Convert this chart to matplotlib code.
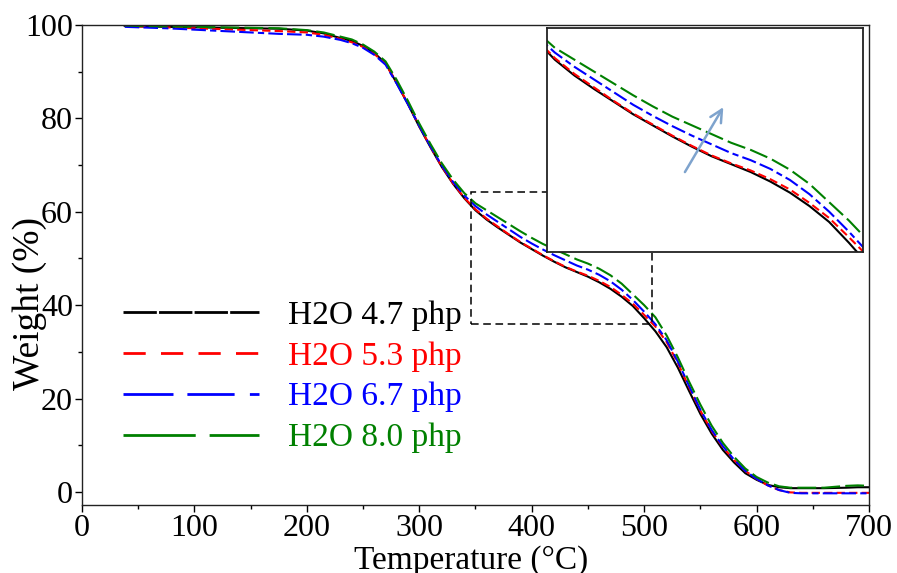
import matplotlib
matplotlib.use("Agg")
import matplotlib.pyplot as plt
from matplotlib.lines import Line2D
from matplotlib.patches import Rectangle

plt.rcParams['font.family'] = ['Liberation Serif', 'DejaVu Serif']

# ---------------- data ----------------
temperature = [38, 50, 75, 100, 125, 150, 175, 200, 215, 230, 240, 250, 260, 270,
               280, 290, 300, 310, 320, 330, 340, 350, 360, 370, 380, 390, 400,
               410, 420, 430, 440, 450, 460, 470, 480, 490, 500, 510, 520, 530,
               540, 550, 560, 570, 580, 590, 600, 610, 620, 630, 640, 660, 680,
               690, 700]

w_47 = [99.8, 99.7, 99.6, 99.5, 99.4, 99.3, 99.2, 98.8, 98.2, 97.2, 96.6, 95.5,
        94.0, 91.8, 87.5, 83.0, 78.2, 73.8, 69.6, 66.0, 62.9, 60.3, 58.3, 56.6,
        55.0, 53.4, 52.0, 50.6, 49.3, 48.1, 47.1, 46.1, 44.9, 43.5, 41.8, 39.8,
        37.2, 34.4, 31.0, 26.6, 21.6, 16.7, 12.5, 9.0, 6.3, 4.0, 2.6, 1.5, 1.0,
        0.8, 0.8, 0.8, 0.9, 1.0, 1.0]

w_53 = [99.8, 99.7, 99.5, 99.3, 99.1, 98.9, 98.7, 98.4, 97.9, 97.0, 96.3, 95.3,
        93.8, 91.7, 87.6, 83.1, 78.4, 73.9, 69.7, 66.1, 63.0, 60.5, 58.5, 56.8,
        55.1, 53.5, 52.1, 50.7, 49.4, 48.2, 47.2, 46.3, 45.2, 43.9, 42.2, 40.3,
        37.9, 35.4, 32.1, 27.6, 22.4, 17.4, 13.1, 9.6, 6.8, 4.5, 2.8, 1.4, 0.4,
        -0.1, -0.2, -0.2, -0.2, -0.2, -0.2]

w_67 = [99.6, 99.5, 99.3, 99.0, 98.7, 98.4, 98.1, 97.9, 97.5, 96.8, 96.1, 95.1,
        93.6, 91.5, 87.4, 83.0, 78.4, 74.0, 69.9, 66.4, 63.5, 61.2, 59.4, 57.8,
        56.2, 54.6, 53.2, 51.9, 50.7, 49.6, 48.5, 47.6, 46.5, 45.1, 43.3, 41.1,
        38.6, 35.9, 32.5, 27.9, 22.7, 17.6, 13.3, 9.8, 6.9, 4.5, 2.8, 1.4, 0.4,
        -0.2, -0.3, -0.3, -0.3, -0.3, -0.3]

w_80 = [99.9, 99.8, 99.7, 99.6, 99.5, 99.4, 99.3, 98.9, 98.4, 97.5, 96.9, 95.8,
        94.3, 92.2, 88.2, 83.7, 78.9, 74.5, 70.4, 66.9, 64.0, 61.8, 60.3, 58.8,
        57.3, 55.8, 54.4, 53.1, 52.0, 50.9, 49.8, 48.9, 47.8, 46.4, 44.6, 42.3,
        40.0, 37.4, 33.5, 28.8, 23.6, 18.7, 14.2, 10.5, 7.5, 5.0, 3.2, 2.0, 1.2,
        0.9, 0.9, 0.9, 1.3, 1.4, 1.3]

labels = ["H2O 4.7 php", "H2O 5.3 php", "H2O 6.7 php", "H2O 8.0 php"]
series = [w_47, w_53, w_67, w_80]

# ---------------- styles ----------------
colors = ['black', '#ff0000', '#0000ff', '#008000']
curve_dashes = [None, (4, 2), (7, 2, 7, 2, 3, 2), (9, 2.5)]
legend_dashes = [(12, 0.8), (8, 5.5), (18, 5, 17, 5.5, 8, 5), (26, 5)]

x_ticks = [0, 100, 200, 300, 400, 500, 600, 700]
y_ticks = [0, 20, 40, 60, 80, 100]
zoom_x = (346.0, 507.3)
zoom_y = (36.0, 64.3)
arrow_start = (416.4, 46.1)
arrow_end = (436.0, 54.3)

# ---------------- figure ----------------
fig = plt.figure(figsize=(8.97, 5.73), dpi=100)
ax = fig.add_axes([0.0914, 0.1187, 0.8774, 0.8377])


def draw_curves(a, lw):
    for y, c, d in zip(series, colors, curve_dashes):
        ln, = a.plot(temperature, y, color=c, lw=lw)
        if d is not None:
            ln.set_dashes(d)


draw_curves(ax, 1.5)
ax.set_xlim(0, 700)
ax.set_ylim(-2.8, 100)
ax.set_xticks(x_ticks)
ax.set_yticks(y_ticks)
ax.set_xticks(range(50, 700, 100), minor=True)
ax.set_yticks(range(10, 100, 20), minor=True)
ax.tick_params(which='major', direction='out', length=5, width=1.0,
               labelsize=23, pad=1.5, colors='black')
ax.tick_params(which='minor', direction='out', length=3, width=1.0)
for s in ax.spines.values():
    s.set_linewidth(1.0)
    s.set_color('#222222')

ax.text(0.494, -0.116, "Temperature (°C)", transform=ax.transAxes,
        ha='center', va='center', fontsize=24)
ax.text(-0.066, 0.42, "Weight (%)", transform=ax.transAxes, rotation=90,
        ha='center', va='center', fontsize=27)

# dashed zoom box
ax.add_patch(Rectangle((zoom_x[0], zoom_y[0]), zoom_x[1] - zoom_x[0],
                       zoom_y[1] - zoom_y[0], fill=False, ec='black',
                       lw=1.1, ls=(0, (5, 3)), zorder=3))

# legend
handles = []
for c, d in zip(colors, legend_dashes):
    h = Line2D([0], [0], color=c, lw=2.0)
    h.set_dashes(d)
    handles.append(h)
leg = ax.legend(handles, labels, loc='center left',
                bbox_to_anchor=(0.0517, 0.267), frameon=False, fontsize=24,
                handlelength=4.1, handletextpad=0.85, labelspacing=0.31,
                borderpad=0, borderaxespad=0, labelcolor='linecolor')

# inset
axin = fig.add_axes([0.6098, 0.5602, 0.3523, 0.3909])
draw_curves(axin, 1.5)
axin.set_xlim(*zoom_x)
axin.set_ylim(*zoom_y)
axin.set_xticks([])
axin.set_yticks([])
for s in axin.spines.values():
    s.set_linewidth(1.3)
    s.set_color('#222222')
axin.annotate('', xy=arrow_end, xytext=arrow_start,
              arrowprops=dict(arrowstyle='->', color='#7ea3cd', lw=1.8,
                              mutation_scale=22, shrinkA=0, shrinkB=0))

fig.savefig('out.png', dpi=100)
